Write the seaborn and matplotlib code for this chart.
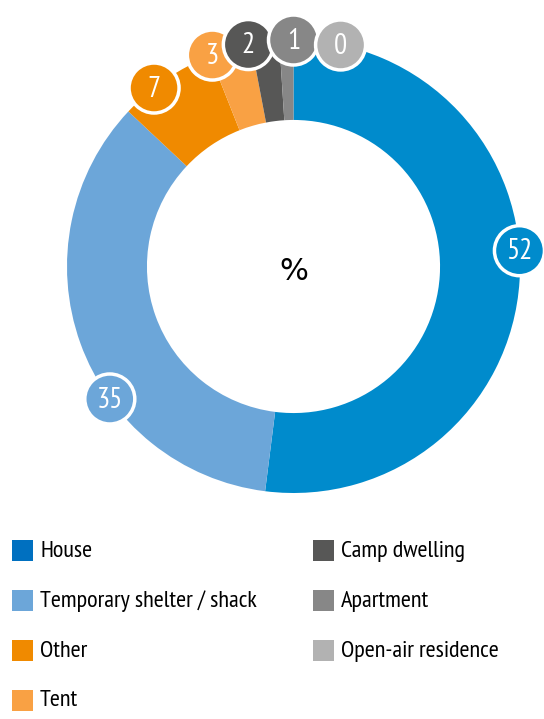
import matplotlib
matplotlib.use("Agg")
import matplotlib.pyplot as plt
import seaborn as sns
import numpy as np
from matplotlib.patches import Circle, Rectangle

# Data
categories = ["House", "Temporary shelter / shack", "Other", "Tent",
              "Camp dwelling", "Apartment", "Open-air residence"]
shares = [52, 35, 7, 3, 2, 1, 0]
colours = sns.color_palette(["#008BCC", "#6CA6D9", "#F08A00", "#F9A144",
                             "#575756", "#878787", "#B2B2B2"])
# the legend swatch for House is a slightly darker blue in the original
legend_colours = ["#0070C0"] + list(colours[1:])
# nudge (degrees, clockwise) to keep the bubbles apart
label_nudge = [-7.6, -16, -3.8, -4.8, -4.3, 1.8, 12]

sns.set_style("white")
narrow = ["PT Sans Narrow", "DejaVu Sans"]

W, H = 544, 719
fig = plt.figure(figsize=(W / 100, H / 100), dpi=100)
cx, cy, R = 293.5, H - 266.5, 226.5
a = 1.2
side = 2 * a * R
ax = fig.add_axes([(cx - side / 2) / W, (cy - side / 2) / H, side / W, side / H])

wedges, _ = ax.pie(shares, colors=colours, startangle=90, counterclock=False,
                   radius=1, wedgeprops=dict(width=0.353, linewidth=0))
ax.set_xlim(-a, a)
ax.set_ylim(-a, a)
ax.set_aspect("equal")
ax.axis("off")

ax.text(0, -0.02, "%", ha="center", va="center", fontsize=22, color="black")

# bubbles with the values
br = 25 / R
for w, val, col, nd in zip(wedges, shares, colours, label_nudge):
    mid = (w.theta1 + w.theta2) / 2 - nd
    t = np.deg2rad(mid)
    x, y = np.cos(t), np.sin(t)
    ax.add_patch(Circle((x, y), br, facecolor=col, edgecolor="white",
                        linewidth=2.5, zorder=5, clip_on=False))
    ax.text(x, y - 0.005, str(val), ha="center", va="center", color="white",
            fontsize=21, family=narrow, zorder=6)

# legend, two columns (4 + 3), drawn by hand in figure pixels
col_x = [12, 313]
row_y = [550.5, 600.5, 650.5, 700]
sq = 21
for i, (cat, col) in enumerate(zip(categories, legend_colours)):
    c, r = (0, i) if i < 4 else (1, i - 4)
    x0, y0 = col_x[c], H - row_y[r]
    fig.add_artist(Rectangle((x0 / W, (y0 - sq / 2) / H), sq / W, sq / H,
                             transform=fig.transFigure, facecolor=col,
                             edgecolor="none"))
    fig.text((x0 + sq + 7) / W, (y0 - 1) / H, cat, ha="left", va="center",
             fontsize=17.5, family=narrow, color="black")

plt.savefig("out.png", dpi=100)
